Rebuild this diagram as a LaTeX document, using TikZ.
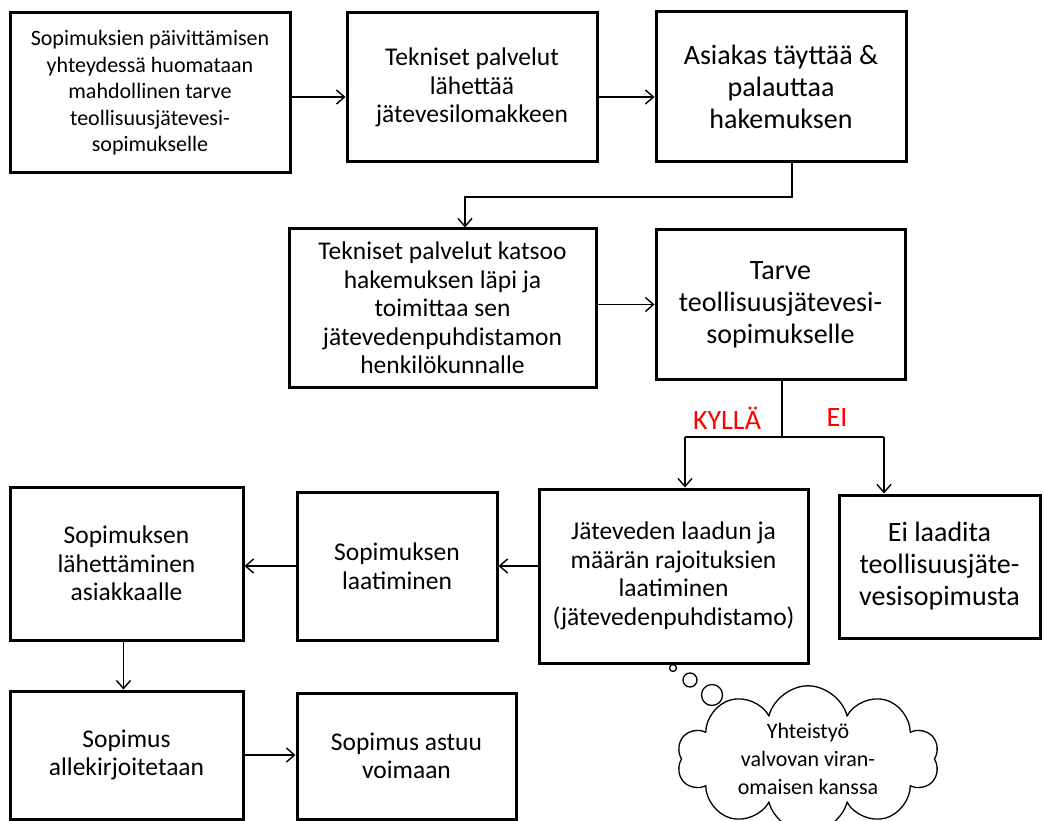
\documentclass[tikz,border=0pt]{standalone}
\usepackage{fontspec}
\setmainfont{Carlito}
\usetikzlibrary{positioning}
\usetikzlibrary{arrows.meta,shapes.symbols}

\begin{document}
\begin{tikzpicture}[x=1pt,y=-1pt,
box/.style={draw,line width=3pt,align=center,inner sep=2pt,font=\fontsize{25.5}{28.5}\selectfont},
bigtext/.style={font=\fontsize{28}{32}\selectfont},
conn/.style={line width=1.4pt,-{Straight Barb[length=8pt,width=14pt]}},
answer/.style={text=red,font=\fontsize{28}{32}\selectfont},
bubble/.style={draw,circle,line width=1.3pt,inner sep=0pt}]
\useasboundingbox (0,0) rectangle (1044,821);

\node[box,minimum width=280,minimum height=160,font=\fontsize{22}{26.5}\selectfont](update) at (150,93){Sopimuksien päivittämisen\\yhteydessä huomataan\\mahdollinen tarve\\teollisuusjätevesi-\\sopimukselle};
\node[box,minimum width=250,minimum height=149](send) at (472,87.5){Tekniset palvelut\\lähettää\\jätevesilomakkeen};
\node[box,bigtext,minimum width=250,minimum height=150](fill) at (781,87){Asiakas täyttää \&\\palauttaa\\hakemuksen};
\node[box,minimum width=307,minimum height=158](check) at (442.5,308){Tekniset palvelut katsoo\\hakemuksen läpi ja\\toimittaa sen\\jätevedenpuhdistamon\\henkilökunnalle};
\node[box,bigtext,minimum width=249,minimum height=149](need) at (780.5,304.5){Tarve\\teollisuusjätevesi-\\sopimukselle};
\node[box,minimum width=269,minimum height=174](limits) at (673.5,576){Jäteveden laadun ja\\määrän rajoituksien\\laatiminen\\(jätevedenpuhdistamo)};
\node[box,bigtext,minimum width=201,minimum height=143](none) at (939.5,566.5){Ei laadita\\teollisuusjäte-\\vesisopimusta};
\node[box,minimum width=200,minimum height=148](draft) at (397,566){Sopimuksen\\laatiminen};
\node[box,minimum width=233,minimum height=153](mail) at (126.5,563.5){Sopimuksen\\lähettäminen\\asiakkaalle};
\node[box,minimum width=233,minimum height=128](sign) at (126.5,755){Sopimus\\allekirjoitetaan};
\node[box,minimum width=219,minimum height=126](valid) at (406.5,756){Sopimus astuu\\voimaan};

\node[answer](yes) at (727,418){KYLLÄ};
\node[answer](no) at (837,418){EI};

\coordinate (bend) at (465,197);
\coordinate (split) at (782,437);
\coordinate (yesend) at (685,437);
\coordinate (noend) at (884,437);

\draw[conn] ([yshift=-4]update.east) -- ([yshift=-4]update.east -| send.west);
\draw[conn] ([yshift=-9.5]send.east) -- ([yshift=-9.5]send.east -| fill.west);
\draw[conn] ([xshift=11]fill.south) |- (bend) -- (bend |- check.north);
\draw[conn] (need.west -| check.east) -- (need.west);
\draw[line width=1.4pt] (split |- need.south) -- (split);
\draw[line width=1.4pt] (yesend) -- (noend);
\draw[conn] (yesend) -- (yesend |- limits.north);
\draw[conn] (noend) -- (noend |- none.north);
\draw[conn] (limits.west |- draft.east) -- (draft.east);
\draw[conn] (draft.west) -- (draft.west -| mail.east);
\draw[conn] ([xshift=-3]mail.south) -- ([xshift=-3]sign.north);
\draw[conn] (sign.east) -- (sign.east -| valid.west);

% thought cloud
\node[bubble,minimum size=7](dot1) at (673,668){};
\node[bubble,minimum size=14](dot2) at (690,680){};
\node[bubble,minimum size=21](dot3) at (712,695){};
\node[draw,cloud,cloud puffs=10,aspect=2.1,line width=1.3pt,inner sep=0pt,minimum width=262,minimum height=126,align=center,font=\fontsize{22}{28}\selectfont](coop) at (808,759){Yhteistyö\\valvovan viran-\\omaisen kanssa};
\end{tikzpicture}
\end{document}
